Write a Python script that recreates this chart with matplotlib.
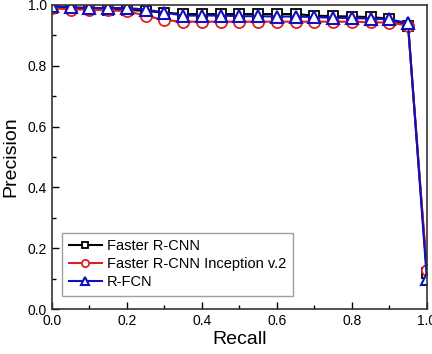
import matplotlib
matplotlib.use("Agg")
import matplotlib.pyplot as plt
from matplotlib.ticker import MultipleLocator

plt.rcParams['font.family'] = ['Liberation Sans', 'DejaVu Sans']

recall = [0.0, 0.05, 0.1, 0.15, 0.2, 0.25, 0.3, 0.35, 0.4, 0.45, 0.5, 0.55, 0.6,
          0.65, 0.7, 0.75, 0.8, 0.85, 0.9, 0.95, 1.0]
faster_rcnn = [0.99, 0.99, 0.99, 0.985, 0.985, 0.98, 0.975, 0.97, 0.97, 0.97, 0.97,
               0.97, 0.97, 0.97, 0.965, 0.963, 0.962, 0.96, 0.955, 0.93, 0.12]
faster_rcnn_incv2 = [0.99, 0.985, 0.985, 0.982, 0.98, 0.965, 0.95, 0.945, 0.945, 0.945,
                     0.945, 0.945, 0.945, 0.945, 0.945, 0.945, 0.945, 0.943, 0.942, 0.932, 0.13]
rfcn = [0.995, 0.993, 0.99, 0.99, 0.99, 0.985, 0.975, 0.965, 0.965, 0.965, 0.963,
        0.963, 0.962, 0.962, 0.96, 0.958, 0.957, 0.955, 0.953, 0.94, 0.10]
labels = ['Faster R-CNN', 'Faster R-CNN Inception v.2', 'R-FCN']

fig = plt.figure(figsize=(4.32, 3.54), dpi=100)
ax = fig.add_axes([0.12, 0.127, 0.868, 0.859])

ax.plot(recall, faster_rcnn, color='black', lw=1.5, marker='s', ms=6.5,
        mfc='white', mec='black', mew=1.3, label=labels[0])
ax.plot(recall, faster_rcnn_incv2, color='#e02020', lw=1.5, marker='o', ms=8,
        mfc='white', mec='#e02020', mew=1.3, label=labels[1])
ax.plot(recall, rfcn, color='#1010c0', lw=1.5, marker='^', ms=8,
        mfc='white', mec='#1010c0', mew=1.5, label=labels[2])

ax.set_xlim(0, 1.0)
ax.set_ylim(0, 1.0)
ax.xaxis.set_major_locator(MultipleLocator(0.2))
ax.xaxis.set_minor_locator(MultipleLocator(0.1))
ax.yaxis.set_major_locator(MultipleLocator(0.2))
ax.yaxis.set_minor_locator(MultipleLocator(0.1))
ax.tick_params(which='both', direction='in', labelsize=10, top=False, right=False)
ax.tick_params(which='major', length=5, width=1)
ax.tick_params(which='minor', length=3, width=1)
ax.set_xticklabels([f'{v:.1f}' for v in ax.get_xticks()])
ax.set_yticklabels([f'{v:.1f}' for v in ax.get_yticks()])
for s in ax.spines.values():
    s.set_linewidth(1.2)
    s.set_color('#333333')

ax.set_xlabel('Recall', fontsize=14, labelpad=2)
ax.set_ylabel('Precision', fontsize=14, labelpad=6)

leg = ax.legend(loc='lower left', bbox_to_anchor=(0.027, 0.043), fontsize=10.5,
                frameon=True, fancybox=False, edgecolor='#888888',
                handlelength=2.3, handletextpad=0.35, borderpad=0.45,
                labelspacing=0.28, borderaxespad=0, markerscale=0.65)
leg.get_frame().set_linewidth(1.0)

fig.savefig('out.png', dpi=100)
